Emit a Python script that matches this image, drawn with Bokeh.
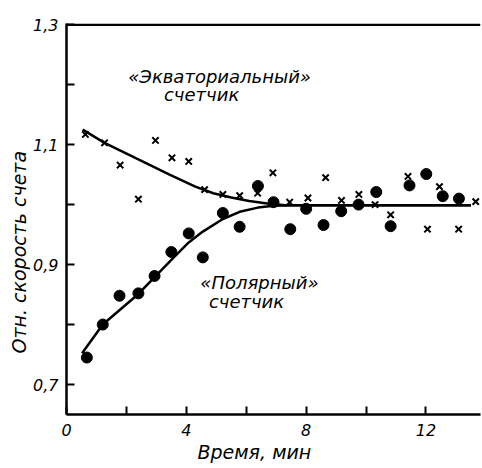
from bokeh.plotting import figure
from bokeh.models import FixedTicker, Span, Label, Range1d, Title
from bokeh.embed import file_html
from bokeh.resources import INLINE

# --- data ---
eq_x = [0.63, 1.27, 1.79, 2.40, 2.97, 3.52, 4.08, 4.61, 5.22, 5.78, 6.38, 6.89,
        7.45, 8.06, 8.65, 9.18, 9.76, 10.30, 10.82, 11.40, 12.05, 12.45, 13.09, 13.66]
eq_y = [1.117, 1.103, 1.066, 1.009, 1.107, 1.078, 1.072, 1.025, 1.017, 1.015, 1.019, 1.053,
        1.004, 1.011, 1.045, 1.007, 1.017, 1.000, 0.983, 1.047, 0.959, 1.030, 0.959, 1.005]

pol_x = [0.68, 1.21, 1.77, 2.40, 2.94, 3.50, 4.08, 4.55, 5.22, 5.78, 6.39, 6.91,
         7.47, 8.00, 8.58, 9.17, 9.75, 10.34, 10.82, 11.45, 12.01, 12.56, 13.10]
pol_y = [0.745, 0.800, 0.848, 0.852, 0.881, 0.921, 0.952, 0.912, 0.986, 0.963, 1.031, 1.004,
         0.959, 0.993, 0.966, 0.989, 1.000, 1.021, 0.964, 1.032, 1.051, 1.014, 1.010]

eq_curve_x = [0.54, 1.27, 2.33, 3.44, 4.30, 4.90, 5.50, 6.10, 6.70, 7.3, 13.5]
eq_curve_y = [1.125, 1.103, 1.077, 1.050, 1.030, 1.019, 1.012, 1.006, 1.002, 0.999, 0.999]

pol_curve_x = [0.52, 1.21, 2.40, 3.50, 4.08, 4.55, 5.22, 5.78, 6.39, 6.91, 7.5, 13.5]
pol_curve_y = [0.752, 0.800, 0.851, 0.908, 0.937, 0.955, 0.976, 0.988, 0.995, 0.998, 0.999, 0.999]

x_major = [0, 4, 8, 12]
x_minor = [2, 6, 10]
x_labels = ["0", "4", "8", "12"]
y_major = [0.7, 0.9, 1.1, 1.3]
y_minor = [0.8, 1.0, 1.2]
y_labels = ["0,7", "0,9", "1,1", "1,3"]

eq_label = ["«Экваториальный»", "счетчик"]
pol_label = ["«Полярный»", "счетчик"]
x_title = "Время, мин"
y_title = "Отн. скорость счета"

FONT = "DejaVu Sans"

p = figure(width=482, height=468, output_backend="svg", toolbar_location=None,
           x_range=Range1d(0, 13.82), y_range=Range1d(0.65, 1.302),
           min_border_left=66, min_border_right=2, min_border_top=23, min_border_bottom=54)
p.outline_line_color = None
p.grid.grid_line_color = None
p.background_fill_color = "white"

for ax in (p.xaxis[0], p.yaxis[0]):
    ax.axis_line_width = 2.5
    ax.axis_line_color = "black"
    ax.major_tick_in = 8
    ax.major_tick_out = 0
    ax.minor_tick_in = 8
    ax.minor_tick_out = 0
    ax.major_tick_line_width = 2
    ax.minor_tick_line_width = 2
    ax.major_tick_line_color = "black"
    ax.minor_tick_line_color = "black"
    ax.major_label_text_font = FONT
    ax.major_label_text_font_style = "italic"
    ax.major_label_text_font_size = "16px"
    ax.major_label_text_color = "black"

p.xaxis.ticker = FixedTicker(ticks=x_major, minor_ticks=x_minor)
p.xaxis.major_label_overrides = {t: l for t, l in zip(x_major, x_labels)}
p.xaxis.major_label_standoff = 9
p.yaxis.ticker = FixedTicker(ticks=y_major, minor_ticks=y_minor)
p.yaxis.major_label_overrides = {t: l for t, l in zip(y_major, y_labels)}
p.yaxis.major_label_standoff = 8

p.add_layout(Span(location=1.3, dimension="width", line_color="black", line_width=2.5))

p.line(eq_curve_x, eq_curve_y, line_color="black", line_width=2.5)
p.line(pol_curve_x, pol_curve_y, line_color="black", line_width=2.5)
p.scatter(eq_x, eq_y, marker="x", size=9, line_color="black", line_width=2)
p.scatter(pol_x, pol_y, marker="circle", size=11, fill_color="black", line_color="black")

def lab(x, y, text, size="18px"):
    p.add_layout(Label(x=x, y=y, text=text, text_font=FONT, text_font_style="italic",
                       text_font_size=size, text_align="center", text_baseline="middle",
                       text_color="black"))

lab(5.11, 1.214, eq_label[0])
lab(4.51, 1.183, eq_label[1])
lab(6.44, 0.870, pol_label[0])
lab(6.01, 0.838, pol_label[1])

p.add_layout(Title(text=x_title, align="left", offset=131, text_font=FONT, text_color="black",
                   text_font_style="italic", text_font_size="19px", standoff=0), "below")
p.add_layout(Title(text=y_title, align="left", offset=61, text_font=FONT, text_color="black",
                   text_font_style="italic", text_font_size="19px", standoff=2), "left")

open("out.html", "w").write(file_html(p, INLINE))
